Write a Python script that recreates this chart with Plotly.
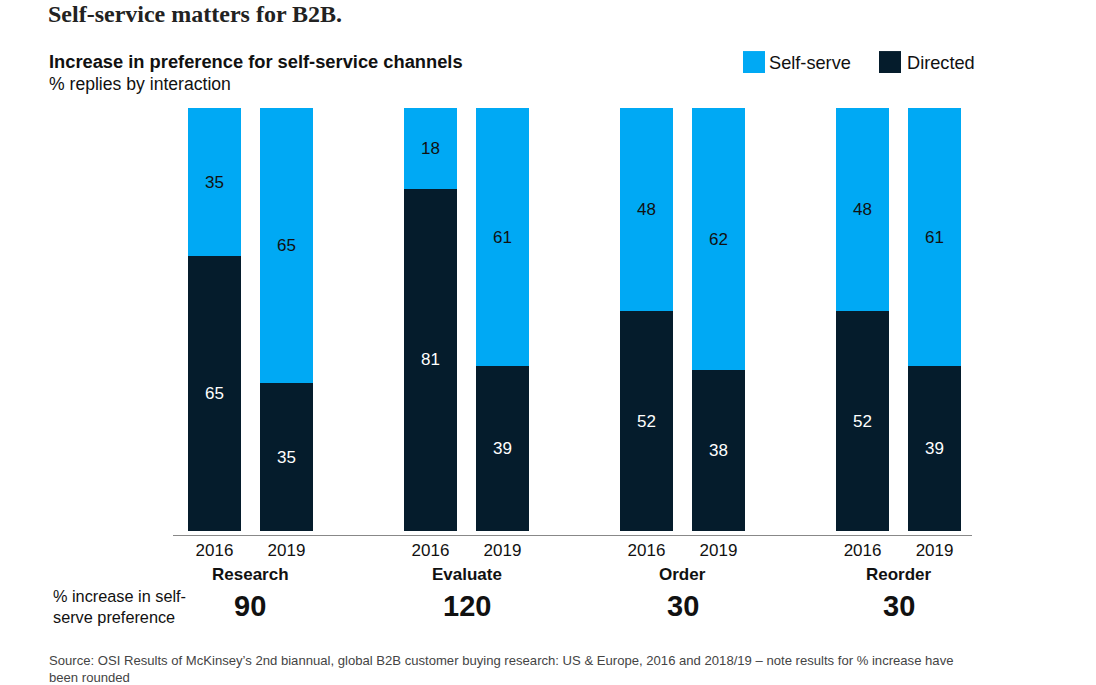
import plotly.graph_objects as go

# ---- data ----
groups = ["Research", "Evaluate", "Order", "Reorder"]
years = ["2016", "2019"]
# drawn segment heights (Evaluate 2016 self-serve is drawn to fill the bar)
self_serve = [35, 65, 19, 61, 48, 62, 48, 61]
directed = [65, 35, 81, 39, 52, 38, 52, 39]
# printed labels
self_serve_labels = ["35", "65", "18", "61", "48", "62", "48", "61"]
directed_labels = ["65", "35", "81", "39", "52", "38", "52", "39"]
pct_increase = ["90", "120", "30", "30"]
xpos = [0, 1, 3, 4, 6, 7, 9, 10]
tick_labels = ["2016", "2019"] * 4

C_SELF = "#00A9F4"
C_DIR = "#051C2C"
SANS = "Liberation Sans, Arial, sans-serif"

W, H = 1096, 685
L, R = 173, 972
T, B = 100, 535.5
pw, ph = R - L, B - T

def px(x):
    return (x - L) / pw

def py(y):
    return (B - y) / ph

fig = go.Figure()
fig.add_trace(go.Bar(
    x=xpos, y=directed, name="Directed", marker=dict(color=C_DIR, line=dict(width=0)),
    width=0.736, text=directed_labels, textposition="inside",
    insidetextanchor="middle", textangle=0,
    textfont=dict(color="white", size=17, family=SANS), hoverinfo="skip",
))
fig.add_trace(go.Bar(
    x=xpos, y=self_serve, name="Self-serve", marker=dict(color=C_SELF, line=dict(width=0)),
    width=0.736, text=self_serve_labels, textposition="inside",
    insidetextanchor="middle", textangle=0,
    textfont=dict(color="#111111", size=17, family=SANS), hoverinfo="skip",
))

annotations = []
# titles
annotations.append(dict(text="<b>Self-service matters for B2B.</b>", x=px(46), y=py(14),
                        xref="paper", yref="paper", xanchor="left", yanchor="middle",
                        showarrow=False, font=dict(family="Liberation Serif, serif", size=24, color="#222222")))
annotations.append(dict(text="<b>Increase in preference for self-service channels</b>", x=px(47), y=py(61),
                        xref="paper", yref="paper", xanchor="left", yanchor="middle",
                        showarrow=False, font=dict(family=SANS, size=18.3, color="#111111")))
annotations.append(dict(text="% replies by interaction", x=px(47), y=py(84),
                        xref="paper", yref="paper", xanchor="left", yanchor="middle",
                        showarrow=False, font=dict(family=SANS, size=17.6, color="#111111")))
# legend text
annotations.append(dict(text="Self-serve", x=px(767), y=py(63), xref="paper", yref="paper",
                        xanchor="left", yanchor="middle", showarrow=False,
                        font=dict(family=SANS, size=18.2, color="#111111")))
annotations.append(dict(text="Directed", x=px(905), y=py(63), xref="paper", yref="paper",
                        xanchor="left", yanchor="middle", showarrow=False,
                        font=dict(family=SANS, size=18.2, color="#111111")))
# group names and % increase
for i, g in enumerate(groups):
    cx = (xpos[2 * i] + xpos[2 * i + 1]) / 2
    annotations.append(dict(text="<b>" + g + "</b>", x=cx, y=py(575), xref="x", yref="paper",
                            xanchor="center", yanchor="middle", showarrow=False,
                            font=dict(family=SANS, size=17, color="#111111")))
    annotations.append(dict(text="<b>" + pct_increase[i] + "</b>", x=cx, y=py(607), xref="x", yref="paper",
                            xanchor="center", yanchor="middle", showarrow=False,
                            font=dict(family=SANS, size=29, color="#111111")))
annotations.append(dict(text="% increase in self-<br>serve preference", x=px(51), y=py(607),
                        xref="paper", yref="paper", xanchor="left", yanchor="middle", align="left",
                        showarrow=False, font=dict(family=SANS, size=16.3, color="#111111")))
annotations.append(dict(text="Source: OSI Results of McKinsey\u2019s 2nd biannual, global B2B customer buying research: US &amp; Europe, 2016 and 2018/19 \u2013 note results for % increase have<br>been rounded",
                        x=px(47), y=py(670), xref="paper", yref="paper", xanchor="left", yanchor="middle",
                        align="left", showarrow=False,
                        font=dict(family=SANS, size=13.1, color="#444444")))

shapes = [
    dict(type="rect", xref="paper", yref="paper", x0=px(743), x1=px(765), y0=py(73), y1=py(51),
         fillcolor=C_SELF, line=dict(width=0)),
    dict(type="rect", xref="paper", yref="paper", x0=px(879), x1=px(901), y0=py(73), y1=py(51),
         fillcolor=C_DIR, line=dict(width=0)),
]

fig.update_layout(
    barmode="stack", width=W, height=H, showlegend=False,
    margin=dict(l=L, r=W - R, t=T, b=H - B, pad=0),
    plot_bgcolor="white", paper_bgcolor="white",
    annotations=annotations, shapes=shapes,
    uniformtext=dict(mode=False),
    xaxis=dict(range=[-0.576, 10.52], tickvals=xpos, ticktext=tick_labels, showgrid=False,
               zeroline=False, showline=True, linecolor="#888888", linewidth=1, ticks="",
               tickfont=dict(family=SANS, size=17, color="#111111"), fixedrange=True),
    yaxis=dict(range=[-0.9, 101.96], visible=False, showgrid=False, zeroline=False, fixedrange=True),
)

fig.write_html("out.html", config={"displayModeBar": False})
